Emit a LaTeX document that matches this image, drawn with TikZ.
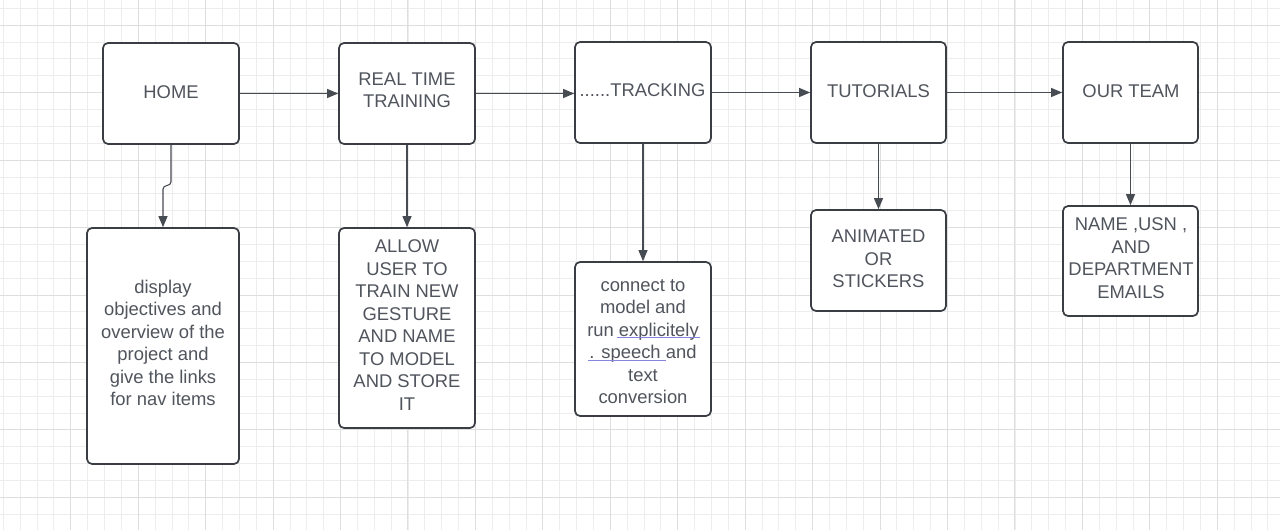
\documentclass[tikz,border=0pt]{standalone}
\usepackage{fontspec}
\setmainfont{Liberation Sans}
\usetikzlibrary{arrows.meta,calc}
\definecolor{gridminor}{HTML}{EDEDED}
\definecolor{gridmajor}{HTML}{DEDEDE}
\definecolor{boxline}{HTML}{3A3D44}
\definecolor{txt}{HTML}{50545C}
\definecolor{conline}{HTML}{474B52}
\definecolor{spell}{HTML}{8585E0}
\tikzset{
  flowbox/.style={draw=boxline, line width=1.7pt, rounded corners=5pt, fill=white,
    inner sep=0pt},
  lbl/.style={inner sep=0pt, align=center, text=txt,
    font=\fontsize{18.4}{22.5}\selectfont},
  conn/.style={draw=conline, line width=1.1pt, -{Triangle[length=11pt,width=9pt]}},
}
\begin{document}
\begin{tikzpicture}[x=1pt,y=-1pt]
\useasboundingbox (0,0) rectangle (1280,530);
\fill[white] (0,0) rectangle (1280,530);
% grid
\foreach \i in {0,...,76} {
  \draw[gridminor, line width=0.8pt] ({3.3+16.86*\i},0) -- ({3.3+16.86*\i},530);
}
\foreach \i in {0,...,31} {
  \draw[gridminor, line width=0.8pt] (0,{8.3+16.86*\i}) -- (1280,{8.3+16.86*\i});
}
\foreach \i in {0,...,18} {
  \draw[gridmajor, line width=0.9pt] ({70.7+67.44*\i},0) -- ({70.7+67.44*\i},530);
}
\foreach \i in {0,...,7} {
  \draw[gridmajor, line width=0.9pt] (0,{25.2+67.44*\i}) -- (1280,{25.2+67.44*\i});
}
% top row boxes
\node[flowbox, minimum width=136pt, minimum height=101pt] (home) at (171,93.5) {};
\node[flowbox, minimum width=136pt, minimum height=101pt] (rtt) at (407,93.5) {};
\node[flowbox, minimum width=136pt, minimum height=101pt] (track) at (643,92.5) {};
\node[flowbox, minimum width=135pt, minimum height=101pt] (tut) at (878.5,92.5) {};
\node[flowbox, minimum width=135pt, minimum height=101pt] (team) at (1130.5,92.5) {};
% bottom row boxes
\node[flowbox, minimum width=152pt, minimum height=236pt] (disp) at (163,346) {};
\node[flowbox, minimum width=136pt, minimum height=200pt] (allow) at (407,328) {};
\node[flowbox, minimum width=136pt, minimum height=154pt] (conv) at (643,339) {};
\node[flowbox, minimum width=135pt, minimum height=101pt] (anim) at (878.5,260.5) {};
\node[flowbox, minimum width=135pt, minimum height=110pt] (names) at (1130.5,261) {};
% texts
\node[lbl] (homet) at (171,92) {HOME};
\node[lbl] (rttt) at (407,90.5) {REAL TIME\\TRAINING};
\node[lbl] (trackt) at (642.5,90.5) {......TRACKING};
\node[lbl] (tutt) at (878.5,90.7) {TUTORIALS};
\node[lbl] (teamt) at (1131,91) {OUR TEAM};
\node[lbl] (dispt) at (163,342.9) {display\\objectives and\\overview of the\\project and\\give the links\\for nav items};
\node[lbl] (allowt) at (407,325.3) {ALLOW\\USER TO\\TRAIN NEW\\GESTURE\\AND NAME\\TO MODEL\\AND STORE\\IT};
\node[lbl] (convt) at (643,341.7) {connect to\\model and\\run explicitely\\. speech and\\text\\conversion};
\node[lbl] (animt) at (878.5,259.2) {ANIMATED\\OR\\STICKERS};
\node[lbl] (namest) at (1131,258.3) {NAME ,USN ,\\AND\\DEPARTMENT\\EMAILS};
% spell-check underlines
\draw[spell, line width=1pt] (617,337.5) -- (700,337.5);
\draw[spell, line width=1pt] (588,360) -- (666,360);
% connectors
\draw[conn] (home.east) -- (rtt.west);
\draw[conn] (rtt.east) -- (rtt.east -| track.west);
\draw[conn] (track.east) -- (tut.west);
\draw[conn] (tut.east) -- (team.west);
\draw[conn] (home.south) -- ++(0,37) .. controls +(0,5) and +(0,-5) .. ($(disp.north)+(0,-38)$) -- (disp.north);
\draw[conn] (rtt.south) -- (allow.north);
\draw[conn] (track.south) -- (conv.north);
\draw[conn] (tut.south) -- (anim.north);
\draw[conn] (team.south) -- (names.north);
\end{tikzpicture}
\end{document}
